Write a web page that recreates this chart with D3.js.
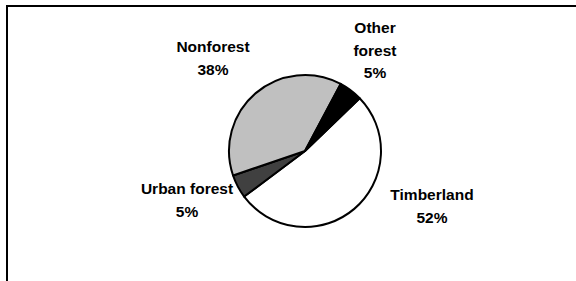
<!DOCTYPE html>
<html>
<head>
<meta charset="utf-8">
<script src="https://cdn.jsdelivr.net/npm/d3@7"></script>
<style>
  html, body { margin: 0; padding: 0; background: #fff; }
  svg { display: block; }
</style>
</head>
<body>
<svg id="chart" width="576" height="281"></svg>
<script>
// ---- data ----
const categories = ["Timberland", "Urban forest", "Nonforest", "Other forest"];
const values = [52, 5, 38, 5];
const labelLines = [["Timberland"], ["Urban forest"], ["Nonforest"], ["Other", "forest"]];

// ---- styling / layout (not data) ----
const colors = ["#ffffff", "#404040", "#c0c0c0", "#000000"];
const labelPos = [ // x centre, baseline of first line
  [432, 200], [187, 194], [213, 52], [375, 33]
];
const lineH = 22.5;

const svg = d3.select("#chart");
// frame (right and bottom edges fall outside the picture)
svg.append("rect")
  .attr("x", 7).attr("y", 6).attr("width", 620).attr("height", 320)
  .attr("fill", "none").attr("stroke", "#000").attr("stroke-width", 2);

const cx = 305, cy = 151, r = 76;
const start = 46 * Math.PI / 180;
const pie = d3.pie().sort(null).startAngle(start).endAngle(start + 2 * Math.PI);
const arc = d3.arc().innerRadius(0).outerRadius(r);
const arcs = pie(values);

const g = svg.append("g").attr("transform", `translate(${cx},${cy})`);
g.selectAll("path").data(arcs).join("path")
  .attr("d", arc)
  .attr("fill", (d, i) => colors[i])
  .attr("stroke", "#000")
  .attr("stroke-width", 2)
  .attr("stroke-linejoin", "round");

const fmt = d3.format(".0f");
const labels = svg.append("g")
  .attr("font-family", "'Liberation Sans', Arial, sans-serif")
  .attr("font-weight", "bold")
  .attr("font-size", "15.5px")
  .attr("fill", "#000")
  .attr("text-anchor", "middle");

arcs.forEach((d, i) => {
  const lines = labelLines[i].concat([fmt(values[i]) + "%"]);
  const t = labels.append("text");
  lines.forEach((ln, k) => {
    t.append("tspan")
      .attr("x", labelPos[i][0])
      .attr("y", labelPos[i][1] + k * lineH)
      .text(ln);
  });
});
</script>
</body>
</html>
